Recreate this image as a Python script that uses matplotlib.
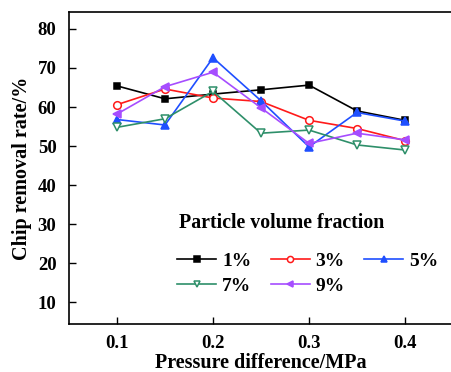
import matplotlib
matplotlib.use("Agg")
import matplotlib.pyplot as plt

# pressure difference (MPa) and chip removal rate (%) for each particle volume fraction
pressure = [0.10, 0.15, 0.20, 0.25, 0.30, 0.35, 0.40]
rate_1 = [65.4, 62.1, 63.3, 64.4, 65.6, 59.0, 56.6]
rate_3 = [60.6, 64.6, 62.3, 61.4, 56.6, 54.5, 51.4]
rate_5 = [56.8, 55.4, 72.6, 61.6, 49.8, 58.6, 56.4]
rate_7 = [54.8, 57.0, 64.0, 53.3, 54.1, 50.3, 49.0]
rate_9 = [58.2, 65.2, 68.9, 59.8, 50.7, 53.3, 51.6]

series = [
    (rate_1, "1%", "black", "s", "black", 5.0),
    (rate_3, "3%", "#ff1a1a", "o", "white", 5.5),
    (rate_5, "5%", "#1f4fff", "^", "#1f4fff", 6.0),
    (rate_7, "7%", "#2e8f6a", "v", "white", 6.0),
    (rate_9, "9%", "#a64dff", "<", "#a64dff", 6.0),
]

plt.rcParams["font.family"] = ["Liberation Serif", "DejaVu Serif"]
plt.rcParams["font.weight"] = "bold"

fig = plt.figure(figsize=(4.52, 3.72), dpi=100)
ax = fig.add_axes([69 / 452, 48 / 372, 384 / 452, 312 / 372])

handles = {}
for vals, name, color, marker, face, ms in series:
    ln, = ax.plot(pressure, vals, color=color, marker=marker, markersize=ms,
                  markerfacecolor=face, markeredgecolor=color,
                  markeredgewidth=1.1, lw=1.2, label=name)
    handles[name] = ln

ax.set_xlim(0.05, 0.45)
ax.set_ylim(4.5, 84.3)
ax.set_xticks([0.1, 0.2, 0.3, 0.4])
ax.set_yticks(range(10, 81, 10))
ax.tick_params(direction="in", length=5, width=1, labelsize=13.5)
ax.tick_params(axis="y", pad=9)
ax.tick_params(axis="x", pad=8)
for lab in ax.get_xticklabels() + ax.get_yticklabels():
    lab.set_fontweight("bold")
for sp in ax.spines.values():
    sp.set_linewidth(1.2)

ax.set_xlabel("Pressure difference/MPa", fontsize=14.5, fontweight="bold", labelpad=1)
ax.set_ylabel("Chip removal rate/%", fontsize=14.5, fontweight="bold", labelpad=4)

# legend title as separate text: it sits further above the entries than labelspacing allows
ax.text(0.555, 0.324, "Particle volume fraction", transform=ax.transAxes,
        ha="center", va="center", fontsize=14.3, fontweight="bold")

# matplotlib fills legend columns first, so reorder to get rows 1/3/5 and 7/9
order = ["1%", "7%", "3%", "9%", "5%"]
ax.legend([handles[k] for k in order], order,
          ncol=3, loc="center", bbox_to_anchor=(0.622, 0.162), frameon=False,
          prop={"size": 14, "weight": "bold"},
          handlelength=2.0, handletextpad=0.3, columnspacing=1.0,
          labelspacing=0.4, markerscale=0.8)

fig.savefig("out.png", dpi=100)
